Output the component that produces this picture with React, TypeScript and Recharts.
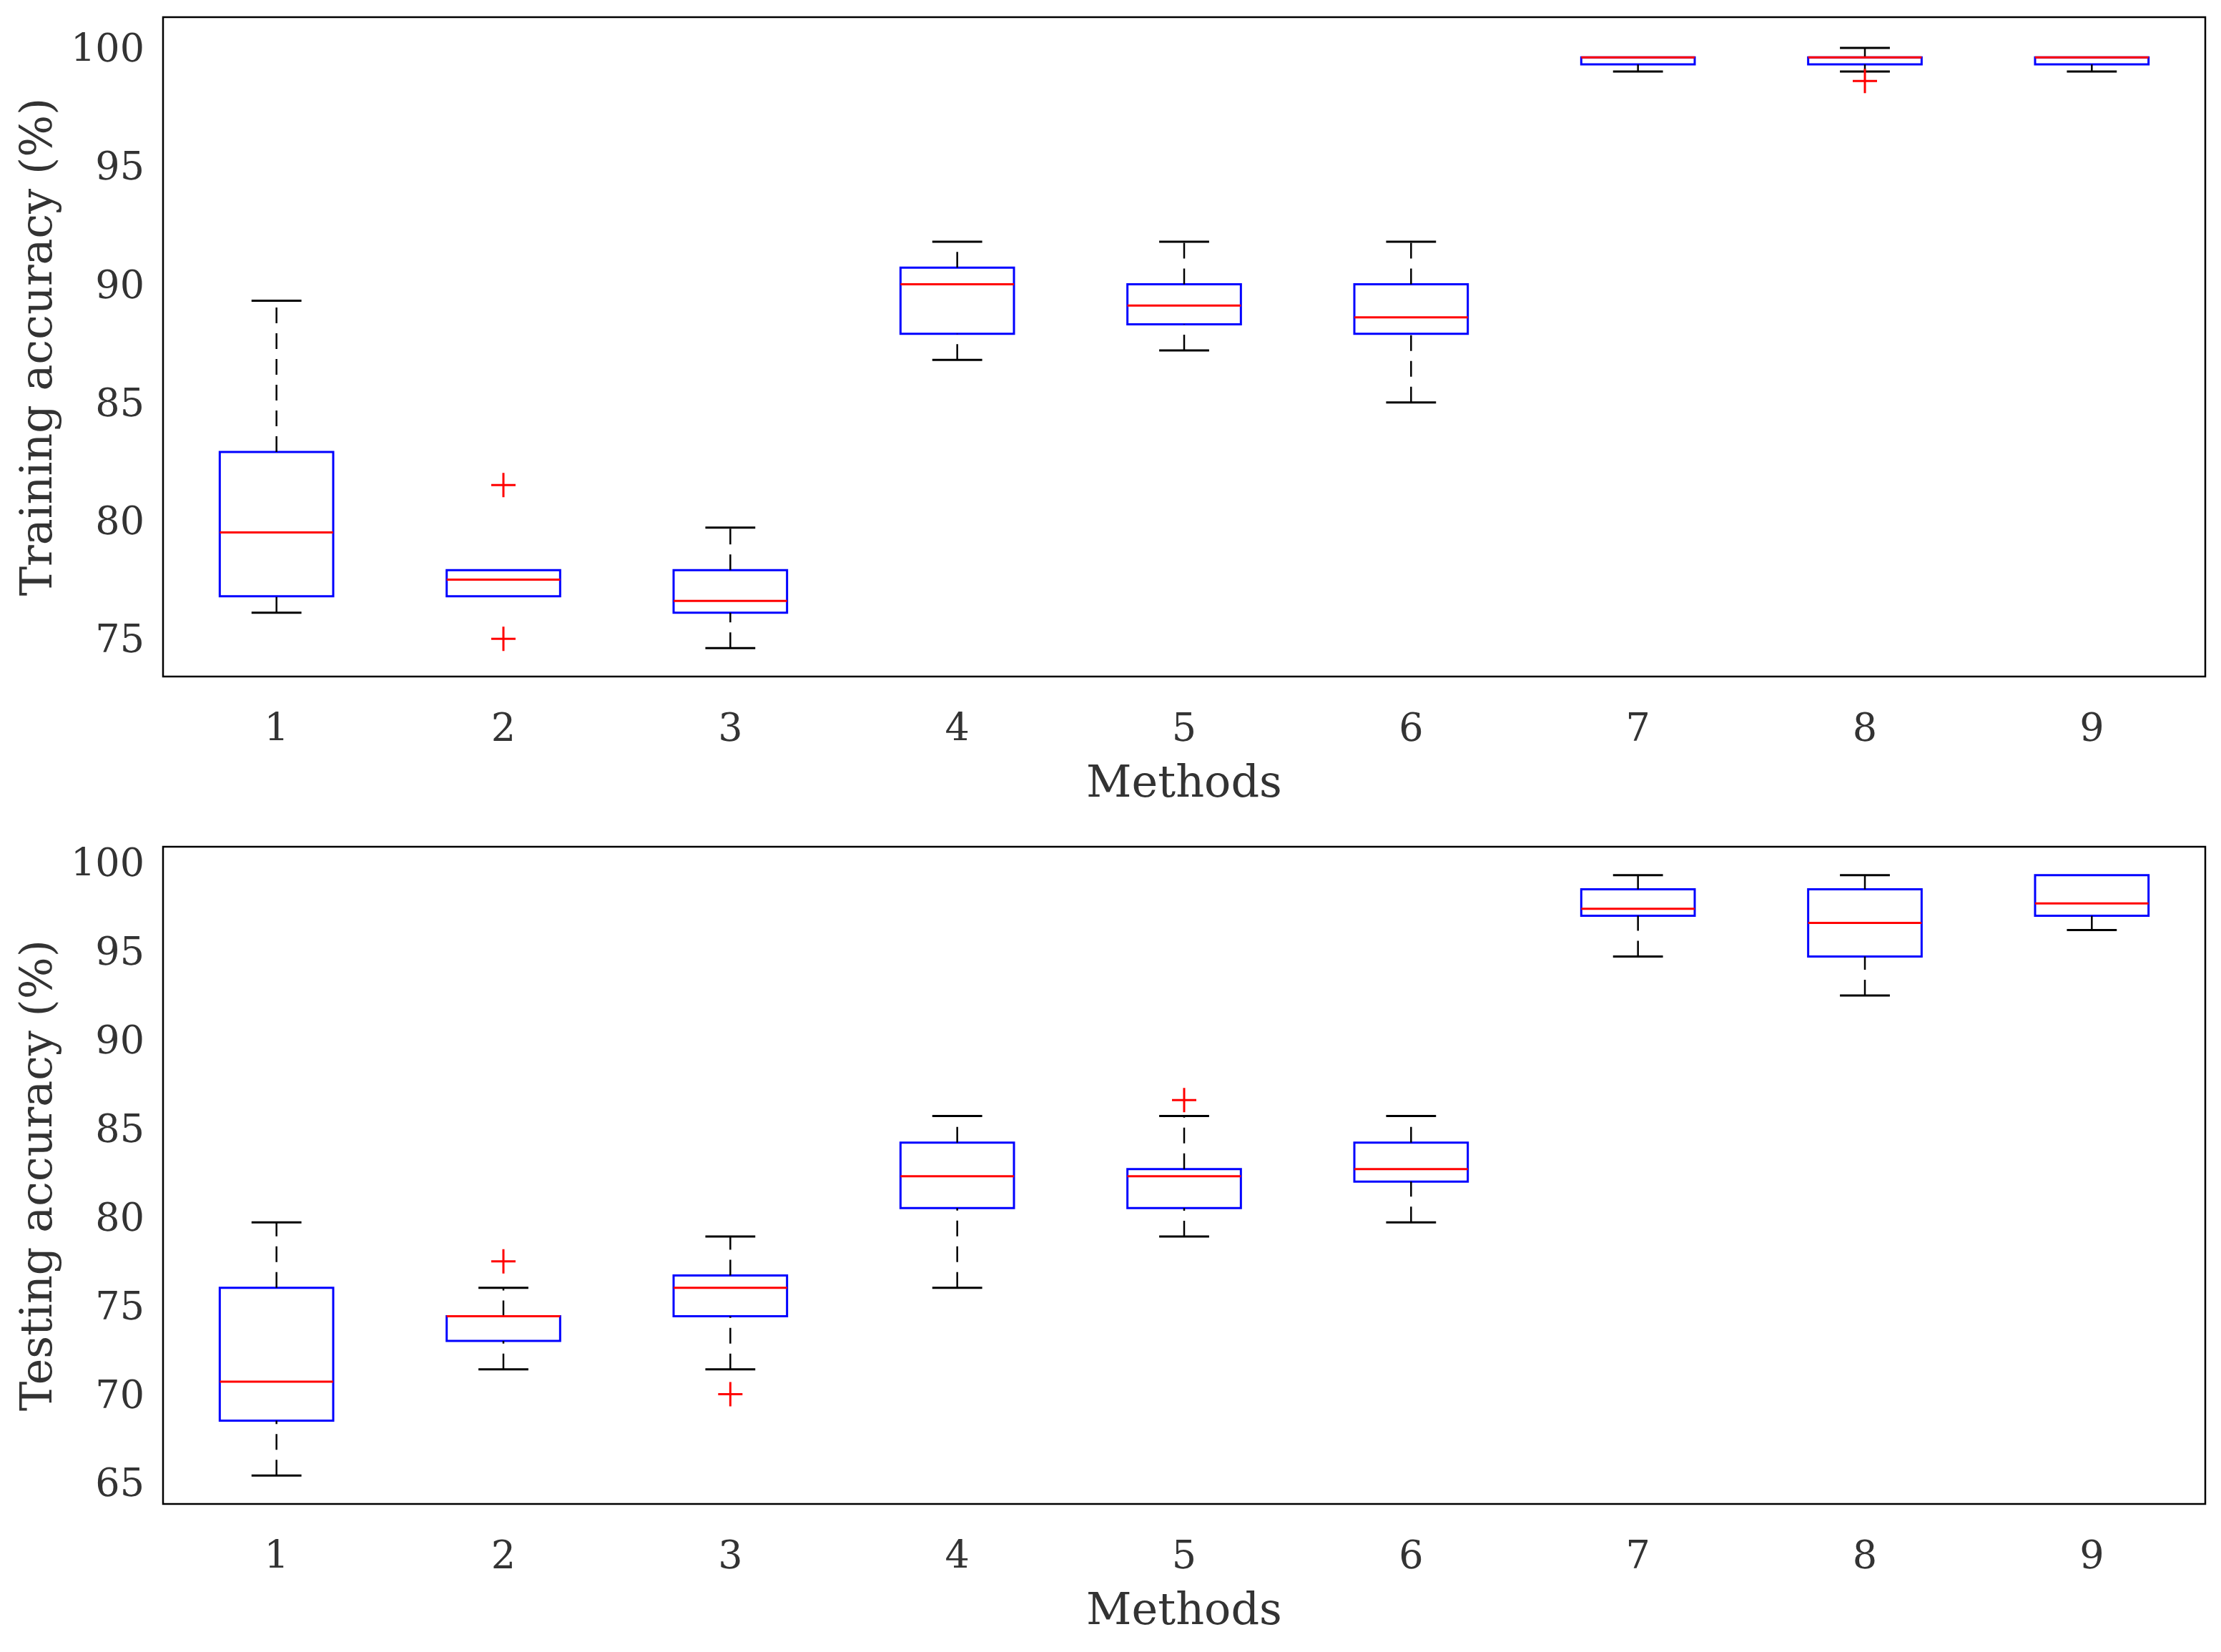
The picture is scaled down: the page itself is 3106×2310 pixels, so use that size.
import { ComposedChart, XAxis, YAxis, Scatter, ReferenceArea, ReferenceLine } from "recharts";

const methods = [1, 2, 3, 4, 5, 6, 7, 8, 9];

// [min, q1, median, q3, max] per method
const trainStats = [
  [76.1, 76.8, 79.5, 82.9, 89.3],
  [76.8, 76.8, 77.5, 77.9, 77.9],
  [74.6, 76.1, 76.6, 77.9, 79.7],
  [86.8, 87.9, 90.0, 90.7, 91.8],
  [87.2, 88.3, 89.1, 90.0, 91.8],
  [85.0, 87.9, 88.6, 90.0, 91.8],
  [99.0, 99.3, 99.6, 99.6, 99.6],
  [99.0, 99.3, 99.6, 99.6, 100.0],
  [99.0, 99.3, 99.6, 99.6, 99.6],
];
const trainOutliers = [
  { x: 2, y: 81.5 },
  { x: 2, y: 75.0 },
  { x: 8, y: 98.6 },
];

const testStats = [
  [65.4, 68.5, 70.7, 76.0, 79.7],
  [71.4, 73.0, 74.4, 74.4, 76.0],
  [71.4, 74.4, 76.0, 76.7, 78.9],
  [76.0, 80.5, 82.3, 84.2, 85.7],
  [78.9, 80.5, 82.3, 82.7, 85.7],
  [79.7, 82.0, 82.7, 84.2, 85.7],
  [94.7, 97.0, 97.4, 98.5, 99.3],
  [92.5, 94.7, 96.6, 98.5, 99.3],
  [96.2, 97.0, 97.7, 99.3, 99.3],
];
const testOutliers = [
  { x: 2, y: 77.5 },
  { x: 3, y: 70.0 },
  { x: 5, y: 86.6 },
];

const trainTicks = [75, 80, 85, 90, 95, 100];
const testTicks = [65, 70, 75, 80, 85, 90, 95, 100];

const FONT = "'DejaVu Serif', 'Liberation Serif', serif";
const TEXT = "#333333";

const Plus = (props: any) => {
  const { cx, cy } = props;
  const s = 17;
  return (
    <path d={`M${cx - s},${cy}H${cx + s}M${cx},${cy - s}V${cy + s}`} stroke="#ff0000" strokeWidth={3} fill="none" />
  );
};

function BoxPanel({ stats, outliers, domain, ticks, ylabel, top, bottom }: any) {
  const tickStyle = { fontSize: 54, fill: TEXT, fontFamily: FONT };
  const common = { xAxisId: "b", yAxisId: "l", ifOverflow: "visible" as const };
  return (
    <ComposedChart width={3106} height={1155} margin={{ top, right: 22, bottom: 0, left: 0 }}>
      <XAxis
        xAxisId="b"
        type="number"
        dataKey="x"
        domain={[0.5, 9.5]}
        ticks={methods}
        tick={tickStyle}
        tickLine={false}
        tickMargin={46}
        axisLine={false}
        height={bottom}
        allowDataOverflow
        label={{ value: "Methods", position: "insideBottom", offset: bottom - 168, style: { ...tickStyle, fontSize: 62 } }}
      />
      <YAxis
        yAxisId="l"
        type="number"
        domain={domain}
        ticks={ticks}
        tick={tickStyle}
        tickLine={false}
        tickMargin={20}
        width={228}
        allowDataOverflow
        axisLine={false}
        label={{ value: ylabel, angle: -90, position: "insideLeft", offset: 50, style: { ...tickStyle, fontSize: 62, textAnchor: "middle" } }}
      />
      <ReferenceArea {...common} x1={0.5} x2={9.5} y1={domain[0]} y2={domain[1]} fill="none" fillOpacity={0} stroke="#000" strokeWidth={2.5} />
      {stats.map((s: number[], i: number) => {
        const x = methods[i];
        const [mn, q1, md, q3, mx] = s;
        return [
          mx > q3 && (
            <ReferenceLine key={`wu${i}`} {...common} segment={[{ x, y: q3 }, { x, y: mx }]} stroke="#000" strokeWidth={2.5} strokeDasharray="22 14" />
          ),
          mn < q1 && (
            <ReferenceLine key={`wl${i}`} {...common} segment={[{ x, y: mn }, { x, y: q1 }]} stroke="#000" strokeWidth={2.5} strokeDasharray="22 14" />
          ),
          mx > q3 && (
            <ReferenceLine key={`cu${i}`} {...common} segment={[{ x: x - 0.11, y: mx }, { x: x + 0.11, y: mx }]} stroke="#000" strokeWidth={3} />
          ),
          mn < q1 && (
            <ReferenceLine key={`cl${i}`} {...common} segment={[{ x: x - 0.11, y: mn }, { x: x + 0.11, y: mn }]} stroke="#000" strokeWidth={3} />
          ),
          <ReferenceArea key={`b${i}`} {...common} x1={x - 0.25} x2={x + 0.25} y1={q1} y2={q3} fill="none" fillOpacity={0} stroke="#0000ff" strokeWidth={3} />,
          <ReferenceLine key={`m${i}`} {...common} segment={[{ x: x - 0.25, y: md }, { x: x + 0.25, y: md }]} stroke="#ff0000" strokeWidth={3} />,
        ];
      })}
      <Scatter xAxisId="b" yAxisId="l" data={outliers} dataKey="y" shape={Plus} isAnimationActive={false} />
    </ComposedChart>
  );
}

export default function App() {
  return (
    <div style={{ position: "absolute", left: 0, top: 0, width: 3106, height: 2310, background: "#fff" }}>
      <BoxPanel stats={trainStats} outliers={trainOutliers} domain={[73.4, 101.3]} ticks={trainTicks} ylabel="Training  accuracy (%)" top={24} bottom={209} />
      <BoxPanel stats={testStats} outliers={testOutliers} domain={[63.8, 100.9]} ticks={testTicks} ylabel="Testing  accuracy (%)" top={29} bottom={207} />
    </div>
  );
}
